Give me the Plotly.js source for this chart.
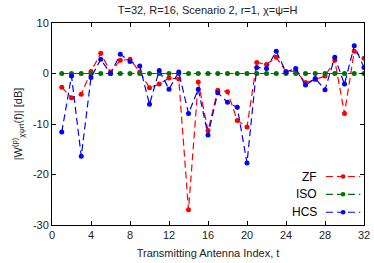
<!DOCTYPE html>
<html><head><meta charset="utf-8">
<script src="https://cdn.plot.ly/plotly-3.0.1.min.js"></script>
<style>html,body{margin:0;padding:0;background:#fff}</style>
</head><body><div id="chart" style="width:374px;height:263px"></div>
<script>
const antennaIndex = [1,2,3,4,5,6,7,8,9,10,11,12,13,14,15,16,17,18,19,20,21,22,23,24,25,26,27,28,29,30,31,32];
const zfValues = [-2.7,-4.8,-4.1,0.4,4.0,0.3,2.6,2.8,0.3,-2.8,-2.1,-0.9,-1.1,-27.0,-1.7,-11.3,-3.3,-3.6,-9.3,-10.6,2.2,1.8,3.2,0.4,0.5,-1.8,-1.2,-0.5,2.6,-7.9,4.4,3.0];
const isoValues = [0,0,0,0,0,0,0,0,0,0,0,0,0,0,0,0,0,0,0,0,0,0,0,0,0,0,0,0,0,0,0,0];
const hcsValues = [-11.6,-0.5,-16.4,-0.8,2.8,0.0,3.8,2.4,1.5,-6.1,0.6,-3.1,0.3,-7.9,-3.1,-12.2,-3.8,-5.7,-6.7,-17.7,1.2,1.0,4.4,0.3,1.0,-2.3,-1.0,-3.2,3.2,-2.1,5.5,1.2];
const seriesNames = ['ZF','ISO','HCS'];
const seriesColors = ['#ff0000','#007400','#0000ff'];
const xTicks = [0,4,8,12,16,20,24,28,32];
const yTicks = [10,0,-10,-20,-30];

const dashPattern = '7px,4px';
const allValues = [zfValues, isoValues, hcsValues];
const traces = allValues.map((v,i)=>({
  x: antennaIndex, y: v, type:'scatter', mode:'lines+markers', name: seriesNames[i],
  line:{color:seriesColors[i], width:1.2, dash:dashPattern},
  marker:{color:seriesColors[i], size:5},
  showlegend:false, hoverinfo:'none'
}));

// custom gnuplot-style legend (text right, sample left->right)
const legY = [0.24, 0.152, 0.063];
const shapes = [];
const annotations = [];
seriesNames.forEach((n,i)=>{
  annotations.push({xref:'paper', yref:'paper', x:0.856, y:legY[i], xanchor:'right', yanchor:'middle',
    text:n, showarrow:false, font:{family:'Liberation Sans, Arial, sans-serif', size:12, color:'#000'}});
  shapes.push({type:'line', xref:'paper', yref:'paper', x0:0.878, x1:0.988, y0:legY[i], y1:legY[i],
    line:{color:seriesColors[i], width:1.2, dash:dashPattern}});
  shapes.push({type:'circle', xref:'paper', yref:'paper', x0:0.933-0.0075, x1:0.933+0.0075,
    y0:legY[i]-0.0108, y1:legY[i]+0.0108, fillcolor:seriesColors[i], line:{color:seriesColors[i], width:0}});
});

const axisFont = {family:'Liberation Sans, Arial, sans-serif', size:11, color:'#222'};
const layout = {
  width:374, height:263,
  margin:{l:52, r:10, t:23, b:38, pad:0},
  paper_bgcolor:'#fff', plot_bgcolor:'#fff',
  title:{text:'T=32, R=16, Scenario 2, r=1, χ=ψ=H', font:{family:'Liberation Sans, Arial, sans-serif', size:11, color:'#222'}, x:0.555, xanchor:'center', y:0.975, yanchor:'top'},
  xaxis:{range:[0,32], tickvals:xTicks, ticktext:xTicks.map(String), ticks:'inside', ticklen:4, tickcolor:'#000',
    showline:true, linecolor:'#000', linewidth:1, mirror:'ticks', showgrid:false, zeroline:false,
    tickfont:axisFont,
    title:{text:'Transmitting Antenna Index, t', font:axisFont, standoff:9}},
  yaxis:{range:[-30,10], tickvals:yTicks, ticktext:yTicks.map(String), ticks:'inside', ticklen:4, tickcolor:'#000',
    showline:true, linecolor:'#000', linewidth:1, mirror:'ticks', showgrid:false, zeroline:false,
    tickfont:axisFont,
    title:{text:'|W<sup>(p)</sup><sub>χψrt</sub>(f)| [dB]', font:axisFont, standoff:8}},
  shapes: shapes, annotations: annotations, showlegend:false
};
Plotly.newPlot('chart', traces, layout, {staticPlot:true, displayModeBar:false});
</script></body></html>
